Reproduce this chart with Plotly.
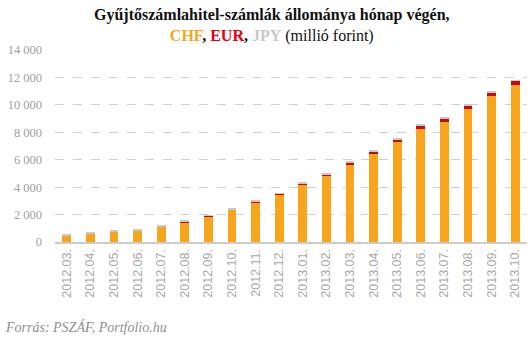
import plotly.graph_objects as go

categories = ["2012.03.", "2012.04.", "2012.05.", "2012.06.", "2012.07.", "2012.08.",
              "2012.09.", "2012.10.", "2012.11.", "2012.12.", "2013.01.", "2013.02.",
              "2013.03.", "2013.04.", "2013.05.", "2013.06.", "2013.07.", "2013.08.",
              "2013.09.", "2013.10."]
chf = [460, 630, 750, 820, 1110, 1400, 1840, 2350, 2860, 3440, 4170, 4830,
       5630, 6430, 7300, 8250, 8760, 9700, 10670, 11450]
eur = [10, 10, 10, 10, 15, 80, 80, 20, 90, 70, 100, 100,
       170, 150, 170, 220, 220, 240, 220, 290]
jpy = [60, 60, 60, 70, 70, 70, 40, 60, 60, 60, 40, 40,
       40, 70, 60, 70, 70, 50, 50, 70]
y_ticks = [0, 2000, 4000, 6000, 8000, 10000, 12000, 14000]
y_tick_text = ["0", "2 000", "4 000", "6 000", "8 000", "10 000", "12 000", "14 000"]

serif = "Liberation Serif, DejaVu Serif, serif"

fig = go.Figure()
fig.add_bar(x=categories, y=chf, name="CHF", marker=dict(color="#F8A51E", line=dict(width=0)))
fig.add_bar(x=categories, y=eur, name="EUR", marker=dict(color="#C40A0F", line=dict(width=0)))
fig.add_bar(x=categories, y=jpy, name="JPY", marker=dict(color="#C9C9C9", line=dict(width=0)))

title = ("<b>Gyűjtőszámlahitel-számlák állománya hónap végén,</b><br>"
         "<b><span style='color:#F8A51E'>CHF</span>, <span style='color:#E3000F'>EUR</span>, "
         "<span style='color:#C9C9C9'>JPY</span></b> (millió forint)")

fig.update_layout(
    width=531, height=342,
    margin=dict(l=55, r=4, t=50, b=100),
    barmode="stack", bargap=0.62,
    showlegend=False,
    plot_bgcolor="white", paper_bgcolor="white",
    xaxis=dict(tickangle=-90, showgrid=False, showline=True, linecolor="#CCCCCC", linewidth=2,
               ticks="", tickfont=dict(family="Liberation Sans, Arial, sans-serif", size=12.5, color="#A8A8A8")),
    yaxis=dict(range=[0, 14000], tickvals=y_ticks, ticktext=y_tick_text,
               showgrid=True, gridcolor="#D0D0D0", griddash="dash", gridwidth=1,
               zeroline=False, ticks="", ticklabelstandoff=12,
               tickfont=dict(family=serif, size=12.5, color="#A0A0A0")),
)

fig.add_annotation(text=title, xref="paper", yref="paper", x=0.46, xanchor="center",
                   y=1.13, yanchor="middle", showarrow=False, align="center",
                   font=dict(family=serif, size=16, color="#111"))

fig.add_annotation(text="<i>Forrás: PSZÁF, Portfolio.hu</i>", xref="paper", yref="paper",
                   x=-0.11, xanchor="left", y=-0.445, yanchor="middle", showarrow=False,
                   font=dict(family=serif, size=14, color="#909090"))

fig.write_html("out.html")
